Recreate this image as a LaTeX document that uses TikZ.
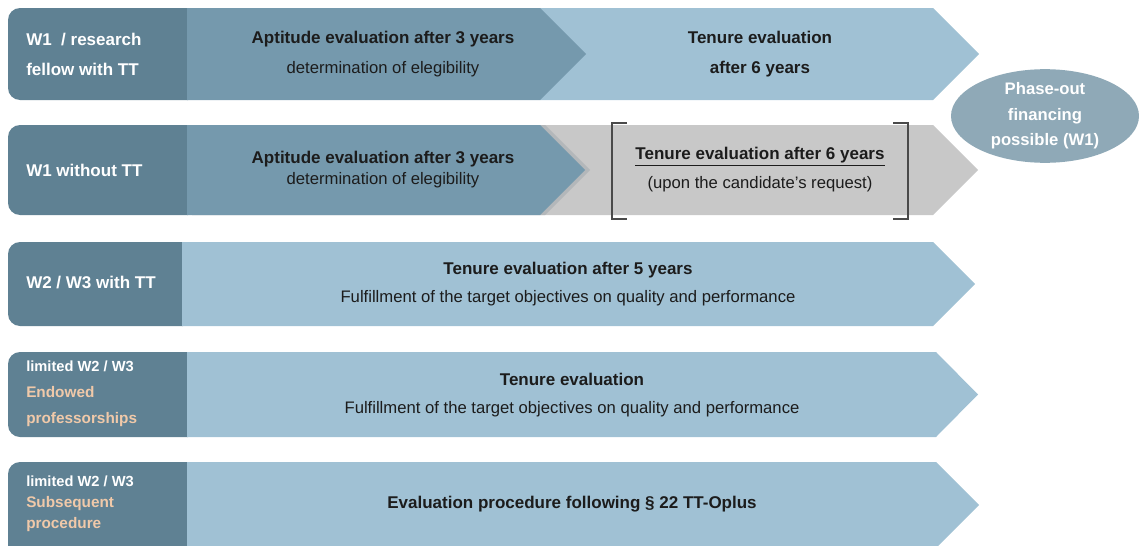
\documentclass[tikz,border=0pt]{standalone}
\usepackage{fontspec}
\setmainfont{Liberation Sans}
\usetikzlibrary{shapes.geometric}

\definecolor{headblue}{HTML}{5F8193}
\definecolor{midblue}{HTML}{7599AD}
\definecolor{paleblue}{HTML}{A0C1D4}
\definecolor{optgrey}{HTML}{C8C8C8}
\definecolor{shadegrey}{HTML}{B3B7BA}
\definecolor{ovalblue}{HTML}{8FA9B7}
\definecolor{peach}{HTML}{F0C9A9}
\definecolor{inkdark}{HTML}{1C1C1C}
\definecolor{bracketgrey}{HTML}{4A4A4A}

\tikzstyle{every node}+=[inner sep=0pt,text=inkdark]
\tikzstyle{head}=[text=white,anchor=west,align=left,font=\fontsize{12.75}{22.5}\selectfont\bfseries]
\tikzstyle{stage}=[align=center,font=\fontsize{12.5}{22.5}\selectfont]
\tikzstyle{headbox}=[fill=headblue,rounded corners=9pt]
\tikzstyle{bracket}=[draw=bracketgrey,line width=1.7pt]

\begin{document}
\begin{tikzpicture}[x=0.75pt,y=-0.75pt]
\useasboundingbox (0,0) rectangle (1139,546);

% row 1
\fill[headbox] (8,8) rectangle (200,100);
\fill[paleblue] (540,8) -- (933,8) -- (979,54) -- (933,100) -- (540,100) -- cycle;
\fill[midblue] (187,8) -- (540,8) -- (586,54) -- (540,100) -- (187,100) -- cycle;

% row 2
\fill[headbox] (8,125) rectangle (200,215);
\fill[optgrey] (540,125) -- (933,125) -- (978,170) -- (933,215) -- (540,215) -- cycle;
\fill[shadegrey,xshift=3.75pt] (187,125) -- (540,125) -- (585,170) -- (540,215) -- (187,215) -- cycle;
\fill[midblue] (187,125) -- (540,125) -- (585,170) -- (540,215) -- (187,215) -- cycle;
\draw[bracket] (627,123) -- (612,123) -- (612,219) -- (627,219);
\draw[bracket] (893,123) -- (908,123) -- (908,219) -- (893,219);

% row 3
\fill[headbox] (8,242) rectangle (195,326);
\fill[paleblue] (182,242) -- (933,242) -- (975,284) -- (933,326) -- (182,326) -- cycle;

% row 4
\fill[headbox] (8,352) rectangle (200,437);
\fill[paleblue] (187,352) -- (936,352) -- (978,394.5) -- (936,437) -- (187,437) -- cycle;

% row 5
\fill[headbox] (8,462) rectangle (200,560);
\fill[paleblue] (187,462) -- (936,462) -- (979,505) -- (936,548) -- (187,548) -- cycle;

% row heads
\node[head] (w1tt) at (26,54) {W1 \ / research\\fellow with TT};
\node[head] (w1) at (26,170) {W1 without TT};
\node[head] (w23tt) at (26,283) {W2 / W3 with TT};
\node[head,font=\fontsize{11.5}{19.5}\selectfont\bfseries] (endowed) at (26,394)
  {{\fontsize{11}{19.5}\selectfont limited W2 / W3}\\\textcolor{peach}{Endowed}\\\textcolor{peach}{professorships}};
\node[head,font=\fontsize{11.5}{15.75}\selectfont\bfseries] (subseq) at (26,504)
  {{\fontsize{11}{15.75}\selectfont limited W2 / W3}\\\textcolor{peach}{Subsequent}\\\textcolor{peach}{procedure}};

% stages
\node[stage] (apt1) at (383,54)
  {{\fontsize{12.75}{22.5}\selectfont\bfseries Aptitude evaluation after 3 years}\\determination of elegibility};
\node[stage,font=\fontsize{12.75}{22.5}\selectfont\bfseries] (ten1) at (760,54)
  {Tenure evaluation\\after 6 years};
\node[stage,font=\fontsize{12.5}{15.75}\selectfont] (apt2) at (383,170)
  {{\fontsize{12.75}{15.75}\selectfont\bfseries Aptitude evaluation after 3 years}\\determination of elegibility};
\node[stage,font=\fontsize{12.5}{21.75}\selectfont] (ten2) at (760,170)
  {{\fontsize{12.75}{21.75}\selectfont\bfseries\underline{Tenure evaluation after 6 years}}\\(upon the candidate's request)};
\node[stage,font=\fontsize{12.5}{21}\selectfont] (ten3) at (568,284)
  {{\fontsize{12.75}{21}\selectfont\bfseries Tenure evaluation after 5 years}\\Fulfillment of the target objectives on quality and performance};
\node[stage,font=\fontsize{12.5}{21}\selectfont] (ten4) at (572,395)
  {{\fontsize{12.75}{21}\selectfont\bfseries Tenure evaluation}\\Fulfillment of the target objectives on quality and performance};
\node[stage,font=\fontsize{12.75}{21}\selectfont\bfseries] (proc5) at (572,504)
  {Evaluation procedure following § 22 TT-Oplus};

% phase-out
\node[ellipse,fill=ovalblue,minimum width=141pt,minimum height=68pt,text=white,
  align=center,font=\fontsize{12.5}{19}\selectfont\bfseries] (phaseout) at (1045,116)
  {Phase-out\\financing\\possible (W1)};
\end{tikzpicture}
\end{document}
